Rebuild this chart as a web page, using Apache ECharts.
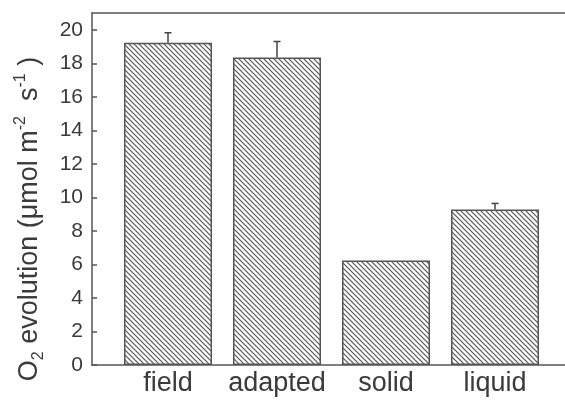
<!DOCTYPE html>
<html>
<head>
<meta charset="utf-8">
<script src="https://cdn.jsdelivr.net/npm/echarts@6/dist/echarts.min.js"></script>
<style>
html,body{margin:0;padding:0;background:#fff;}
#chart{width:565px;height:400px;}
</style>
</head>
<body>
<div id="chart"></div>
<script>
const categories = ['field', 'adapted', 'solid', 'liquid'];
const values = [19.22, 18.34, 6.23, 9.28];
const errorTops = [19.82, 19.30, 6.23, 9.64];
const yTicks = { min: 0, max: 21, interval: 2 };

const FONT = '"Liberation Sans", Arial, sans-serif';
const LINE = '#555';
const TEXT = '#3a3a3a';

// hatch pattern (\\\ direction)
const s = 5;
const cv = document.createElement('canvas');
cv.width = s; cv.height = s;
const cx = cv.getContext('2d');
cx.fillStyle = '#fff';
cx.fillRect(0, 0, s, s);
cx.strokeStyle = '#555';
cx.lineWidth = 1.2;
cx.beginPath();
cx.moveTo(-1, -1); cx.lineTo(s + 1, s + 1);
cx.moveTo(s - 1, -1); cx.lineTo(s + 1, 1);
cx.moveTo(-1, s - 1); cx.lineTo(1, s + 1);
cx.stroke();

const chart = echarts.init(document.getElementById('chart'), null, { renderer: 'canvas' });

const errData = categories.map((c, i) => [i, values[i], errorTops[i]]);

const option = {
  animation: false,
  backgroundColor: '#fff',
  grid: [
    { left: 92, right: 0, top: 13, bottom: 35 },
    { left: 113.5, right: 15.5, top: 13, bottom: 35 }
  ],
  xAxis: [
    { gridIndex: 0, type: 'value', min: 0, max: 1, position: 'bottom',
      axisLine: { show: true, onZero: false, lineStyle: { color: LINE, width: 1.5 } },
      axisTick: { show: false }, axisLabel: { show: false }, splitLine: { show: false } },
    { gridIndex: 0, type: 'value', min: 0, max: 1, position: 'top',
      axisLine: { show: true, onZero: false, lineStyle: { color: LINE, width: 1.5 } },
      axisTick: { show: false }, axisLabel: { show: false }, splitLine: { show: false } },
    { gridIndex: 1, type: 'category', data: categories, boundaryGap: true,
      axisLine: { show: false }, axisTick: { show: false }, splitLine: { show: false },
      axisLabel: { color: TEXT, fontSize: 27, fontFamily: FONT, margin: 5, interval: 0, hideOverlap: false } }
  ],
  yAxis: [
    { gridIndex: 0, type: 'value', min: yTicks.min, max: yTicks.max, interval: yTicks.interval,
      axisLine: { show: true, onZero: false, lineStyle: { color: LINE, width: 1.5 } },
      axisTick: { show: true, inside: true, length: 5, lineStyle: { color: LINE, width: 1.5 } },
      axisLabel: { color: TEXT, fontSize: 21, fontFamily: FONT, margin: 9, showMaxLabel: false },
      splitLine: { show: false } },
    { gridIndex: 1, type: 'value', min: yTicks.min, max: yTicks.max, show: false }
  ],
  graphic: [{
    type: 'text',
    x: 30, y: 219,
    rotation: Math.PI / 2,
    style: {
      text: '{a|O}{sub|2}{a| evolution (μmol m}{sup|-2}{a|  s}{sup|-1}{a| )}',
      align: 'center',
      verticalAlign: 'middle',
      fill: TEXT,
      rich: {
        a: { fontSize: 27, fontFamily: FONT, fill: TEXT, lineHeight: 34, verticalAlign: 'middle' },
        sub: { fontSize: 16, fontFamily: FONT, fill: TEXT, lineHeight: 15, verticalAlign: 'bottom' },
        sup: { fontSize: 16, fontFamily: FONT, fill: TEXT, lineHeight: 15, verticalAlign: 'top' }
      }
    }
  }],
  series: [
    {
      type: 'bar', xAxisIndex: 2, yAxisIndex: 1,
      data: values, barWidth: 88,
      itemStyle: { color: { image: cv, repeat: 'repeat' }, borderColor: LINE, borderWidth: 1.5 },
      z: 2
    },
    {
      type: 'custom', xAxisIndex: 2, yAxisIndex: 1,
      data: errData, z: 3,
      renderItem: function (params, api) {
        const i = api.value(0);
        const v = api.value(1);
        const t = api.value(2);
        if (t <= v) return null;
        const p1 = api.coord([i, v]);
        const p2 = api.coord([i, t]);
        const st = { stroke: '#444', lineWidth: 1.5 };
        return {
          type: 'group',
          children: [
            { type: 'line', shape: { x1: p1[0], y1: p1[1], x2: p2[0], y2: p2[1] }, style: st },
            { type: 'line', shape: { x1: p2[0] - 3.5, y1: p2[1], x2: p2[0] + 3.5, y2: p2[1] }, style: st }
          ]
        };
      }
    }
  ]
};
chart.setOption(option);
</script>
</body>
</html>
